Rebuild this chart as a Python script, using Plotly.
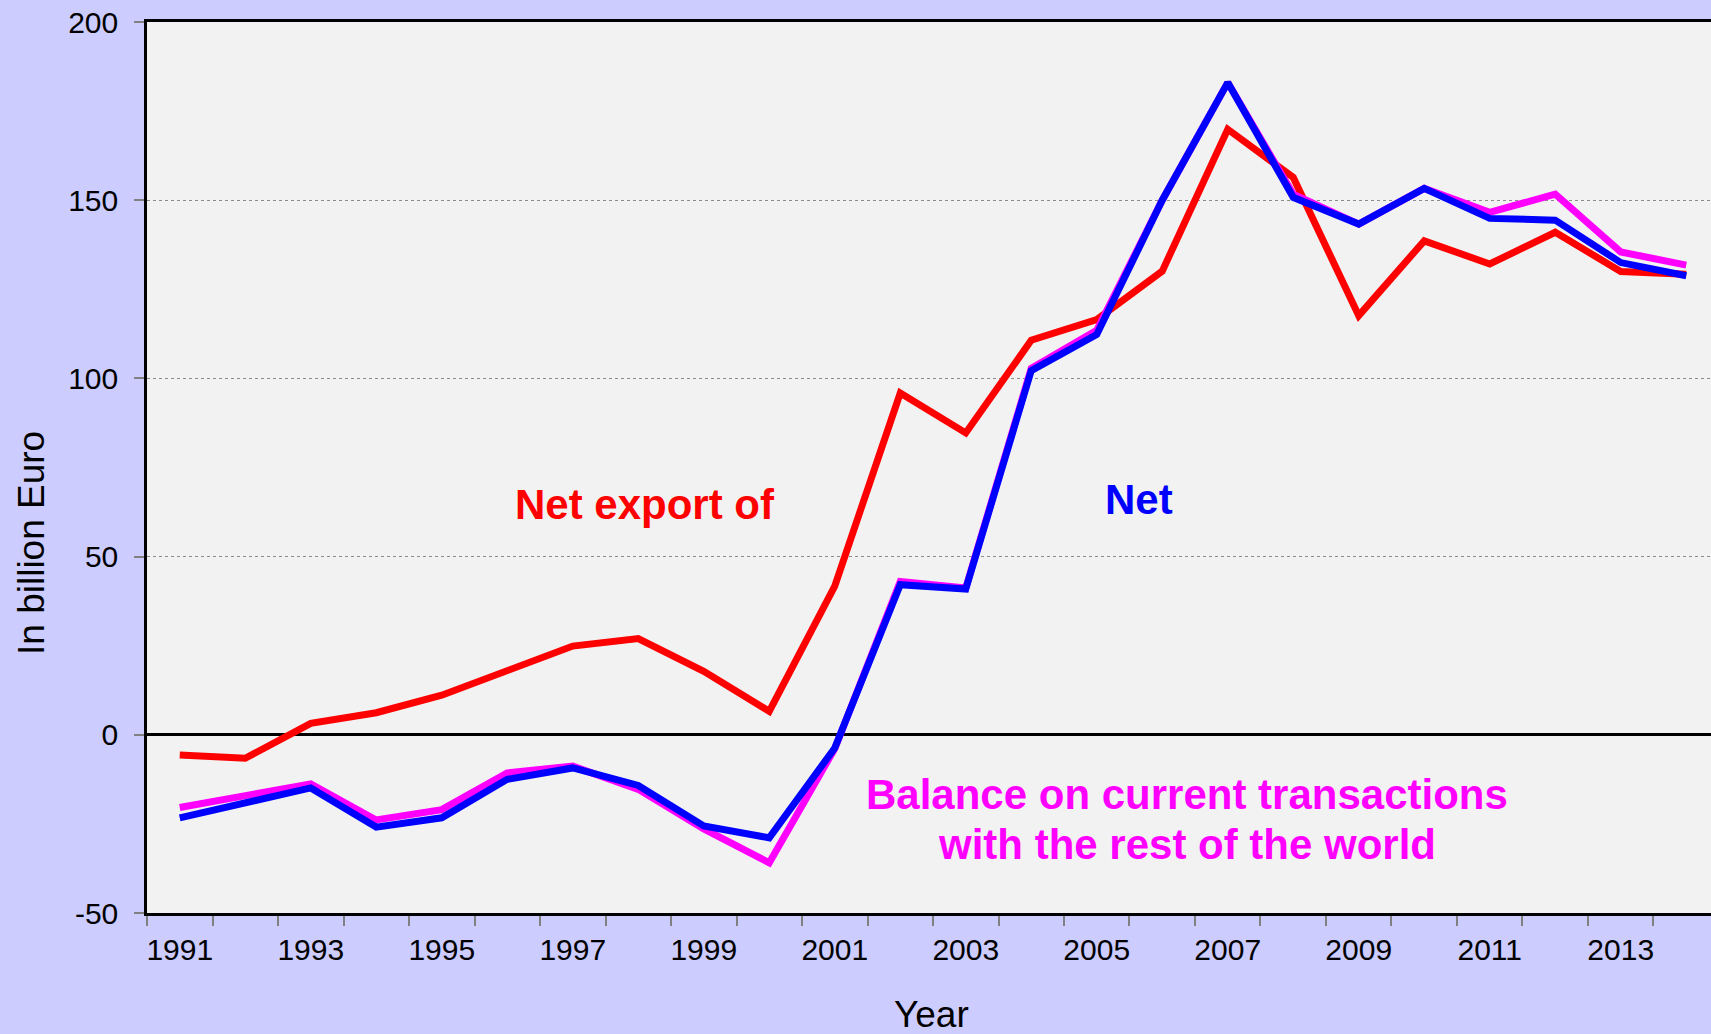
import plotly.graph_objects as go

years = list(range(1991, 2015))
net_export = [-5.7, -6.6, 3.2, 6.2, 11.1, 18.1, 24.9, 27.0, 17.8, 6.6, 41.7, 95.9,
              84.7, 110.7, 116.5, 130.1, 169.9, 156.4, 117.6, 138.6, 132.1, 141.0, 130.0, 129.2]
balance = [-20.4, -17.2, -13.8, -23.9, -21.0, -10.7, -8.8, -15.3, -26.4, -35.9, -3.9, 43.0,
           41.2, 102.8, 113.5, 150.0, 183.0, 151.7, 143.3, 153.3, 146.6, 151.7, 135.5, 131.8]
net = [-23.3, -18.9, -14.9, -25.9, -23.3, -12.5, -9.3, -14.2, -25.6, -28.9, -3.7, 42.1,
       40.9, 102.2, 112.3, 150.0, 183.0, 150.8, 143.3, 153.3, 144.9, 144.4, 132.5, 128.8]
year_labels = [str(y) for y in range(1991, 2015, 2)]
y_ticks = [-50, 0, 50, 100, 150, 200]
y_tick_labels = ["-50", "0", "50", "100", "150", "200"]

FONT = "Arial, Liberation Sans, sans-serif"

fig = go.Figure()
fig.add_trace(go.Scatter(x=years, y=net_export, mode="lines",
                         line=dict(color="#FF0000", width=7), name="Net export"))
fig.add_trace(go.Scatter(x=years, y=balance, mode="lines",
                         line=dict(color="#FF00FF", width=7), name="Balance"))
fig.add_trace(go.Scatter(x=years, y=net, mode="lines",
                         line=dict(color="#0000FF", width=7), name="Net"))

fig.update_layout(
    width=1711, height=1034,
    margin=dict(l=147, r=0, t=22, b=121),
    paper_bgcolor="#CCCCFF",
    plot_bgcolor="#F2F2F2",
    showlegend=False,
    font=dict(family=FONT, color="black", size=30),
    xaxis=dict(
        range=[1990.5, 2014.378],
        tickmode="array",
        tickvals=[int(t) for t in year_labels],
        ticktext=year_labels,
        ticks="outside", ticklen=1, tickcolor="rgba(0,0,0,0)",
        ticklabelstandoff=7,
        tickfont=dict(size=30, family=FONT, color="black"),
        showgrid=False, zeroline=False,
        showline=True, linecolor="black", linewidth=2.5, mirror=True,
        minor=dict(tickmode="array", tickvals=[1990.5 + i for i in range(25)],
                   ticks="outside", ticklen=10, tickcolor="#808080", tickwidth=1.5,
                   showgrid=False),
    ),
    yaxis=dict(
        range=[-50, 200],
        tickmode="array", tickvals=y_ticks, ticktext=y_tick_labels,
        ticks="outside", ticklen=10, tickcolor="#808080", tickwidth=1.5,
        ticklabelstandoff=10,
        tickfont=dict(size=30, family=FONT, color="black"),
        showgrid=True, gridcolor="#8C8C8C", griddash="dot", gridwidth=1,
        zeroline=True, zerolinecolor="black", zerolinewidth=2.5,
        showline=True, linecolor="black", linewidth=2.5, mirror=False,
    ),
)

annotations = [
    dict(text="In billion Euro", xref="paper", yref="paper",
         x=-147/1564 + 31.7/1564, y=(913-543.3)/891, textangle=-90,
         xanchor="center", yanchor="middle", showarrow=False,
         font=dict(size=37, family=FONT, color="black")),
    dict(text="Year", xref="paper", yref="paper",
         x=(931-147)/1564, y=(913-1014)/891,
         xanchor="center", yanchor="middle", showarrow=False,
         font=dict(size=37, family=FONT, color="black")),
    dict(text="<b>Net export of</b>", xref="x", yref="y", x=1998.10, y=64.6,
         xanchor="center", yanchor="middle", showarrow=False,
         font=dict(size=42, family=FONT, color="#FF0000")),
    dict(text="<b>Net</b>", xref="x", yref="y", x=2005.645, y=66.1,
         xanchor="center", yanchor="middle", showarrow=False,
         font=dict(size=42, family=FONT, color="#0000FF")),
    dict(text="<b>Balance on current transactions</b>", xref="x", yref="y",
         x=2006.378, y=-16.7, xanchor="center", yanchor="middle", showarrow=False,
         font=dict(size=42, family=FONT, color="#FF00FF")),
    dict(text="<b>with the rest of the world</b>", xref="x", yref="y",
         x=2006.378, y=-30.8, xanchor="center", yanchor="middle", showarrow=False,
         font=dict(size=42, family=FONT, color="#FF00FF")),
]
fig.update_layout(annotations=annotations)

fig.write_html(
    "out.html",
    config={"displayModeBar": False},
    post_script="document.body.style.margin='0px';document.body.style.overflow='hidden';",
)
